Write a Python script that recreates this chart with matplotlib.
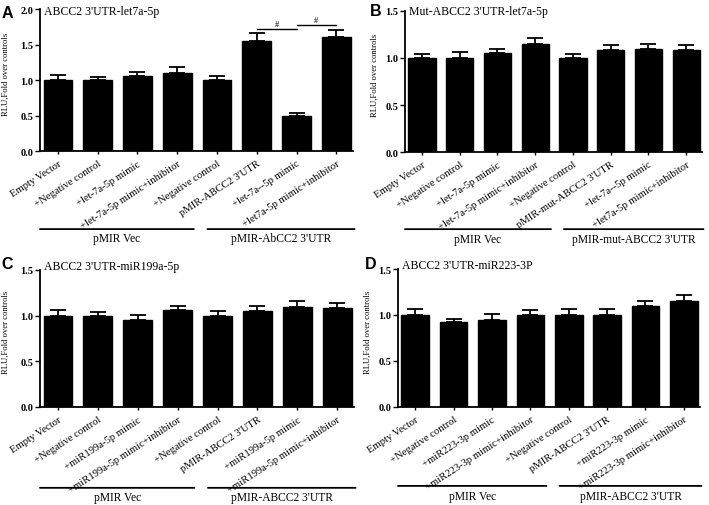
import matplotlib
matplotlib.use("Agg")
import matplotlib.pyplot as plt
import numpy as np

plt.rcParams['font.family'] = ['Liberation Serif', 'DejaVu Serif']

# Data
vals_a = [1.0, 1.0, 1.05, 1.1, 1.0, 1.55, 0.5, 1.6]
err_a = [0.07, 0.04, 0.06, 0.09, 0.05, 0.11, 0.04, 0.10]
vals_b = [1.0, 1.0, 1.05, 1.15, 1.0, 1.09, 1.1, 1.08]
err_b = [0.04, 0.06, 0.05, 0.06, 0.04, 0.05, 0.05, 0.06]
vals_c = [1.0, 1.0, 0.95, 1.06, 1.0, 1.05, 1.09, 1.08]
err_c = [0.06, 0.04, 0.06, 0.05, 0.05, 0.06, 0.07, 0.06]
vals_d = [1.0, 0.92, 0.95, 1.0, 1.0, 1.0, 1.1, 1.15]
err_d = [0.06, 0.04, 0.06, 0.05, 0.06, 0.07, 0.05, 0.07]

labels_a = ["Empty Vector", "+Negative control", "+let-7a-5p mimic",
            "+let-7a-5p mimic+inhibitor", "+Negative control",
            "pMIR-ABCC2 3'UTR", "+let-7a--5p mimic", "+let7a-5p mimic+inhibitor"]
labels_b = ["Empty Vector", "+Negative control", "+let-7a-5p mimic",
            "+let-7a-5p mimic+inhibitor", "+Negative control",
            "pMIR-mut-ABCC2 3'UTR", "+let-7a--5p mimic", "+let7a-5p mimic+inhibitor"]
labels_c = ["Empty Vector", "+Negative control", "+miR199a-5p mimic",
            "+miR199a-5p mimic+inhibitor", "+Negative control",
            "pMIR-ABCC2 3'UTR", "+miR199a-5p mimic", "+miR199a-5p mimic+inhibitor"]
labels_d = ["Empty Vector", "+Negative control", "+miR223-3p mimic",
            "+miR223-3p mimic+inhibitor", "+Negative control",
            "pMIR-ABCC2 3'UTR", "+miR223-3p mimic", "+miR223-3p mimic+inhibitor"]

titles = ["ABCC2 3'UTR-let7a-5p", "Mut-ABCC2 3'UTR-let7a-5p",
          "ABCC2 3'UTR-miR199a-5p", "ABCC2 3'UTR-miR223-3P"]
groups_a = ["pMIR Vec", "pMIR-AbCC2 3'UTR"]
groups_b = ["pMIR Vec", "pMIR-mut-ABCC2 3'UTR"]
groups_c = ["pMIR Vec", "pMIR-ABCC2 3'UTR"]
groups_d = ["pMIR Vec", "pMIR-ABCC2 3'UTR"]
ylims = [2.0, 1.5, 1.5, 1.5]

fig = plt.figure(figsize=(7.09, 5.06), dpi=100)

# axes rectangles in figure fractions [left, bottom, width, height]
rects = [
    [0.0564, 0.6996, 0.4415, 0.2806],
    [0.5712, 0.6976, 0.4189, 0.2787],
    [0.0564, 0.1937, 0.4429, 0.2708],
    [0.5613, 0.1937, 0.4260, 0.2727],
]
group_y = [(-0.55, -0.615), (-0.547, -0.615), (-0.59, -0.66), (-0.572, -0.648)]
letters = ["A", "B", "C", "D"]
letter_pos = [(0.002, 0.974), (0.521, 0.978), (0.002, 0.478), (0.514, 0.478)]

all_vals = [vals_a, vals_b, vals_c, vals_d]
all_err = [err_a, err_b, err_c, err_d]
all_labels = [labels_a, labels_b, labels_c, labels_d]
all_groups = [groups_a, groups_b, groups_c, groups_d]
spans = [(-0.45, 3.42), (3.76, 7.46)]

axes = []
for i in range(4):
    ax = fig.add_axes(rects[i])
    axes.append(ax)
    x = np.arange(len(all_vals[i]))
    v = np.array(all_vals[i])
    e = np.array(all_err[i])
    ax.bar(x, v, width=0.72, color='black', edgecolor='black', zorder=2)
    ax.errorbar(x, v, yerr=[np.zeros_like(e), e], fmt='none', ecolor='black',
                elinewidth=1.3, capsize=5.5, capthick=1.3, zorder=1)
    ax.set_xlim(-0.45, 7.42)
    ax.set_ylim(0, ylims[i])
    ticks = np.arange(0, ylims[i] + 0.01, 0.5)
    ax.set_yticks(ticks)
    ax.set_yticklabels([f"{t:.1f}" for t in ticks], fontweight='bold', fontsize=7.5)
    ax.set_xticks(x)
    ax.set_xticklabels(all_labels[i], rotation=33, ha='right',
                       rotation_mode='anchor', fontsize=7.7)
    ax.tick_params(axis='y', length=3.5, width=1.0, pad=1.5)
    ax.tick_params(axis='x', length=2.5, width=1.0, pad=3)
    for s in ['top', 'right']:
        ax.spines[s].set_visible(False)
    for s in ['left', 'bottom']:
        ax.spines[s].set_linewidth(1.3)
    ax.set_ylabel("RLU,Fold over controls", fontsize=6.2)
    ax.yaxis.set_label_coords(-0.095 if i in (0, 2) else -0.088, 0.55)
    ax.text(0.012, 0.985 if i == 0 else (1.0 if i == 1 else 1.03), titles[i],
            transform=ax.transAxes, fontsize=8.5, va='center', ha='left')

    # group brackets under the tick labels
    ly, ty = group_y[i]
    for (x0, x1), name in zip(spans, all_groups[i]):
        ax.annotate("", xy=(x0, ly), xytext=(x1, ly),
                    xycoords=('data', 'axes fraction'),
                    textcoords=('data', 'axes fraction'),
                    arrowprops=dict(arrowstyle='-', lw=1.3, color='black',
                                    shrinkA=0, shrinkB=0),
                    annotation_clip=False)
        ax.text((x0 + x1) / 2, ty, name, transform=ax.get_xaxis_transform(),
                ha='center', va='center', fontsize=8.3, clip_on=False)

    lx, lyy = letter_pos[i]
    fig.text(lx, lyy, letters[i], fontsize=11.5, fontweight='bold',
             family='Liberation Sans', va='center', ha='left')

# significance marks in panel A
ax = axes[0]
sig_pairs = [(5, 6, 1.72), (6, 7, 1.78)]
for a, b, h in sig_pairs:
    ax.plot([a, b], [h, h], color='black', lw=1.0)
    ax.text((a + b) / 2, h + 0.015, "#", ha='center', va='bottom', fontsize=6)

fig.savefig("out.png", dpi=100)
